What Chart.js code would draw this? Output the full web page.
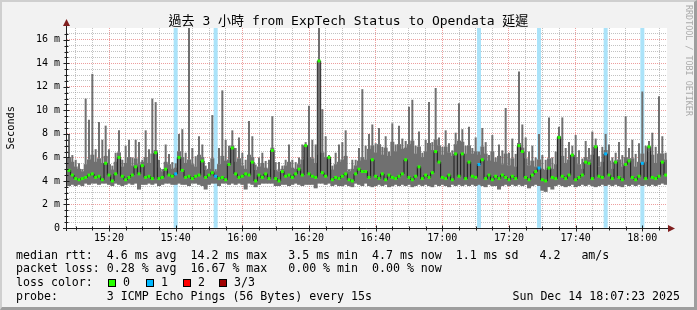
<!DOCTYPE html>
<html>
<head>
<meta charset="utf-8">
<script src="https://cdn.jsdelivr.net/npm/chart.js@4/dist/chart.umd.min.js"></script>
<style>
  html, body { margin: 0; padding: 0; }
  body { width: 697px; height: 310px; overflow: hidden; background: #f2f2f2; position: relative;
         font-family: 'DejaVu Sans Mono', monospace; color: #000; }
  #c { position: absolute; left: 0; top: 0; }
  .shade { position: absolute; left: 0; top: 0; width: 697px; height: 310px; box-sizing: border-box;
           border-style: solid; border-width: 2px 3px 3px 2px;
           border-color: #cfcfcf #9e9e9e #9e9e9e #cfcfcf; pointer-events: none; }
  .t { position: absolute; white-space: pre; line-height: 14px; }
  .title { left: 0; width: 697px; top: 14px; text-align: center; font-size: 13px;
           font-family: 'DejaVu Sans Mono', 'Noto Sans CJK TC', monospace; }
  .leg { font-size: 11.6px; left: 16px; }
  .box { position: absolute; width: 6px; height: 6px; border: 1px solid #000; }
  .ylab { left: 3px; top: 106px; font-size: 10.3px; writing-mode: vertical-rl; transform: rotate(180deg); }
  .wm { left: 684px; top: 5px; font-size: 8.4px; color: #ababab; writing-mode: vertical-rl; line-height: 10px; }
</style>
</head>
<body>
<canvas id="c" width="697" height="310"></canvas>
<div class="shade"></div>
<div class="t title">過去 3 小時 from ExpTech Status to Opendata 延遲</div>
<div class="t ylab">Seconds</div>
<div class="t wm">RRDTOOL / TOBI OETIKER</div>
<div class="t leg" style="top:248px">median rtt:  4.6 ms avg  14.2 ms max   3.5 ms min  4.7 ms now  1.1 ms sd   4.2   am/s</div>
<div class="t leg" style="top:261px">packet loss: 0.28 % avg  16.67 % max   0.00 % min  0.00 % now</div>
<div class="t leg" style="top:275px">loss color:</div>
<div class="box" style="left:108px;top:279px;background:#26ff00"></div>
<div class="t leg" style="top:275px;left:123px">0</div>
<div class="box" style="left:146px;top:279px;background:#00b8ff"></div>
<div class="t leg" style="top:275px;left:161px">1</div>
<div class="box" style="left:183px;top:279px;background:#ff0000"></div>
<div class="t leg" style="top:275px;left:198px">2</div>
<div class="box" style="left:219px;top:279px;background:#a00000"></div>
<div class="t leg" style="top:275px;left:234px">3/3</div>
<div class="t leg" style="top:289px">probe:       3 ICMP Echo Pings (56 Bytes) every 15s</div>
<div class="t leg" style="top:289px;left:auto;right:17px">Sun Dec 14 18:07:23 2025</div>

<script>
(function () {
  'use strict';

  // one sample per minute, x = minutes after 15:00 (15:08 ... 18:07), values in ms
  const FIRST_MIN = 8;
  // slowest ping of the minute (top of the thin smoke spikes)
  const hiMs = [
    8.0, 6.2, 5.8, 5.5, 5.0, 11.0, 9.2, 13.1, 6.7, 9.0,
    7.5, 8.7, 6.7, 5.3, 6.4, 8.3, 5.8, 7.0, 7.5, 6.0,
    7.5, 7.3, 5.8, 8.3, 6.7, 11.0, 10.7, 5.8, 5.0, 7.1,
    6.3, 5.6, 5.5, 8.0, 8.4, 6.4, 17.5, 6.8, 6.1, 7.8,
    7.1, 5.3, 5.6, 9.6, 5.0, 6.8, 11.7, 7.5, 7.0, 8.3,
    6.8, 7.7, 6.4, 5.8, 9.1, 7.8, 5.4, 6.0, 6.4, 5.7,
    5.8, 9.5, 5.6, 5.6, 5.3, 5.8, 7.1, 5.8, 5.6, 6.0,
    7.1, 7.3, 10.4, 7.5, 7.1, 17.5, 10.1, 7.8, 6.2, 5.3,
    6.4, 7.1, 7.3, 8.3, 5.0, 5.8, 5.8, 6.8, 11.8, 7.0,
    8.0, 8.8, 7.2, 8.5, 6.9, 7.8, 6.5, 8.9, 7.1, 8.7,
    7.6, 7.4, 10.3, 10.9, 7.0, 8.2, 6.4, 7.5, 10.7, 7.3,
    11.9, 7.7, 6.9, 8.3, 7.2, 6.6, 8.1, 10.6, 8.4, 7.0,
    8.6, 6.8, 7.7, 6.5, 8.5, 7.3, 6.2, 7.9, 6.0, 7.1,
    6.6, 10.2, 6.4, 7.6, 6.3, 13.3, 8.8, 7.7, 6.5, 7.0,
    6.0, 8.0, 6.2, 5.8, 9.4, 6.0, 6.5, 8.6, 9.4, 6.8,
    7.3, 7.0, 7.9, 6.6, 5.9, 7.4, 6.8, 8.2, 7.6, 6.1,
    6.9, 8.0, 7.1, 6.0, 6.4, 7.3, 6.2, 9.5, 6.8, 7.5,
    6.3, 7.2, 11.6, 7.0, 7.4, 8.1, 6.9, 11.2, 7.8, 6.4
  ];
  // top of the dense part of the smoke
  const bodyMs = [
    6.0, 5.6, 5.2, 5.0, 4.8, 5.4, 5.8, 6.2, 5.6, 5.9,
    5.5, 6.1, 5.4, 4.9, 5.6, 6.4, 5.2, 5.5, 6.0, 5.3,
    5.9, 5.4, 5.6, 6.0, 5.5, 6.3, 6.6, 5.1, 4.8, 5.6,
    5.4, 5.0, 5.1, 6.5, 6.0, 5.5, 5.8, 5.4, 5.2, 6.2,
    6.0, 4.9, 5.0, 5.9, 4.8, 5.4, 6.1, 5.7, 5.8, 7.0,
    5.6, 5.9, 5.3, 5.0, 6.2, 6.0, 4.9, 5.2, 5.5, 5.1,
    5.0, 6.8, 4.9, 4.8, 5.0, 5.3, 5.6, 5.1, 5.0, 5.4,
    5.8, 7.0, 6.0, 5.9, 5.5, 6.2, 6.4, 6.0, 6.0, 4.9,
    5.4, 5.6, 5.8, 6.1, 4.8, 5.0, 5.3, 5.7, 6.0, 5.8,
    6.7, 7.0, 6.4, 7.1, 6.2, 6.8, 6.1, 7.3, 6.5, 7.1,
    6.7, 6.8, 7.1, 7.4, 6.3, 6.9, 6.0, 6.5, 7.2, 6.6,
    7.5, 7.0, 6.2, 6.9, 6.4, 6.1, 7.1, 7.4, 7.3, 6.3,
    7.0, 6.3, 6.5, 6.2, 6.9, 6.3, 5.7, 6.5, 5.6, 6.1,
    5.4, 6.3, 5.3, 5.9, 5.2, 7.2, 6.8, 5.9, 5.3, 5.7,
    5.2, 5.8, 5.0, 4.9, 5.9, 5.0, 5.4, 7.8, 6.1, 5.5,
    5.8, 6.2, 6.0, 5.4, 5.0, 6.0, 5.8, 6.2, 7.0, 5.2,
    5.6, 6.6, 5.7, 5.0, 5.7, 5.8, 5.2, 6.0, 5.9, 5.9,
    5.2, 5.6, 6.3, 5.6, 6.5, 6.2, 5.5, 6.3, 6.3, 5.8
  ];
  // fastest ping of the minute
  const loMs = [
    3.6, 3.7, 3.6, 3.7, 3.6, 3.8, 3.7, 3.8, 3.8, 3.7,
    3.8, 3.8, 3.7, 3.6, 3.8, 3.7, 3.6, 3.7, 3.8, 3.7,
    3.8, 3.3, 3.7, 3.7, 3.8, 3.7, 3.8, 3.6, 3.7, 3.8,
    3.8, 3.7, 3.7, 3.8, 3.7, 3.7, 3.6, 3.8, 3.8, 3.7,
    3.6, 3.3, 3.7, 3.8, 3.8, 3.6, 3.8, 3.8, 3.7, 3.8,
    3.7, 3.8, 3.7, 3.3, 3.8, 3.7, 3.5, 3.7, 3.8, 3.8,
    3.8, 3.8, 3.6, 3.6, 3.7, 3.7, 3.6, 3.7, 3.8, 3.7,
    3.6, 3.7, 3.7, 3.7, 3.4, 3.8, 3.8, 3.7, 3.8, 3.6,
    3.7, 3.6, 3.6, 3.7, 3.6, 3.5, 3.8, 3.7, 3.6, 3.8,
    3.6, 3.5, 3.6, 3.7, 3.6, 3.7, 3.5, 3.6, 3.7, 3.6,
    3.7, 3.6, 3.7, 3.5, 3.6, 3.7, 3.6, 3.7, 3.6, 3.5,
    3.7, 3.6, 3.7, 3.6, 3.5, 3.7, 3.6, 3.7, 3.6, 3.7,
    3.6, 3.7, 3.6, 3.7, 3.6, 3.5, 3.7, 3.6, 3.6, 3.3,
    3.6, 3.7, 3.6, 3.7, 3.6, 3.7, 3.6, 3.7, 3.4, 3.6,
    3.7, 3.6, 3.2, 3.1, 3.5, 3.3, 3.6, 3.7, 3.6, 3.5,
    3.6, 3.7, 3.5, 3.6, 3.7, 3.6, 3.7, 3.6, 3.5, 3.6,
    3.7, 3.6, 3.7, 3.6, 3.7, 3.6, 3.5, 3.7, 3.6, 3.7,
    3.6, 3.7, 3.6, 3.7, 3.6, 3.7, 3.6, 3.7, 3.8, 3.7
  ];
  const medMs = [
    4.9, 4.5, 4.2, 4.1, 4.2, 4.3, 4.5, 4.6, 4.3, 4.4,
    4.1, 5.5, 4.5, 4.0, 4.6, 6.0, 4.4, 4.1, 4.3, 4.5,
    5.2, 4.6, 5.3, 4.3, 4.4, 4.2, 6.4, 4.2, 4.3, 5.0,
    4.5, 4.4, 4.6, 6.0, 4.9, 4.3, 4.4, 4.2, 4.4, 4.5,
    5.7, 4.3, 4.5, 4.7, 4.4, 4.2, 4.3, 4.1, 5.4, 6.8,
    4.6, 4.3, 4.4, 4.6, 4.5, 5.6, 4.0, 4.5, 4.3, 4.6,
    4.2, 6.6, 4.2, 4.0, 4.8, 4.4, 4.5, 4.3, 4.6, 5.0,
    4.5, 7.0, 4.6, 4.4, 4.3, 14.2, 4.7, 4.4, 6.0, 4.1,
    4.3, 4.2, 4.4, 4.6, 4.1, 4.0, 4.6, 5.0, 4.8, 4.8,
    4.3, 5.8, 4.4, 4.2, 4.6, 4.1, 4.5, 4.3, 4.2, 4.4,
    4.6, 5.8, 4.3, 4.1, 4.4, 5.2, 4.2, 4.5, 4.3, 4.7,
    6.5, 5.6, 4.3, 4.2, 4.5, 4.1, 6.3, 4.4, 6.3, 4.2,
    5.6, 4.4, 4.3, 5.4, 5.8, 4.2, 4.5, 4.1, 4.4, 4.2,
    4.5, 4.3, 4.1, 4.4, 4.2, 7.0, 6.5, 4.3, 4.1, 4.5,
    4.8, 5.1, 4.1, 4.0, 5.1, 4.3, 4.2, 7.7, 4.4, 4.2,
    4.5, 6.2, 4.1, 4.3, 4.5, 5.6, 5.5, 4.2, 6.9, 4.4,
    4.3, 6.3, 4.5, 4.2, 5.6, 4.3, 4.1, 5.4, 5.7, 4.3,
    4.1, 4.4, 5.5, 4.2, 6.9, 4.3, 4.2, 4.4, 5.6, 4.5
  ];
  // minutes where 1 of 3 pings was lost
  const lossMin = [40, 52, 131, 149, 169, 180];

  const X_MIN = 7.4, X_MAX = 187.4;   // 15:07:23 .. 18:07:23
  const Y_MAX = 17;
  const xGrid = [10, 15, 20, 25, 30, 35, 40, 45, 50, 55, 60, 65, 70, 75, 80, 85, 90, 95,
    100, 105, 110, 115, 120, 125, 130, 135, 140, 145, 150, 155, 160, 165, 170, 175, 180, 185];
  const xLabelMin = [20, 40, 60, 80, 100, 120, 140, 160, 180];
  const xLabels = ['15:20', '15:40', '16:00', '16:20', '16:40', '17:00', '17:20', '17:40', '18:00'];
  const yGrid = [0, 0.5, 1, 1.5, 2, 2.5, 3, 3.5, 4, 4.5, 5, 5.5, 6, 6.5, 7, 7.5, 8, 8.5,
    9, 9.5, 10, 10.5, 11, 11.5, 12, 12.5, 13, 13.5, 14, 14.5, 15, 15.5, 16, 16.5];
  const yLabelVal = [0, 2, 4, 6, 8, 10, 12, 14, 16];
  const yLabels = ['0', '2 m', '4 m', '6 m', '8 m', '10 m', '12 m', '14 m', '16 m'];

  const GRID = 'rgba(143,143,143,0.55)';
  const MGRID = 'rgba(222,79,79,0.55)';
  const AXIS = '#1f1f1f';
  const ARROW = '#801f1f';
  const SMOKE = '#707070';
  const LOSS0 = '#26ff00';
  const LOSS1 = '#00b8ff';
  const LOSS_BG = '#abe3f9';
  const tickFont = { family: 'DejaVu Sans Mono', size: 10 };

  const body = bodyMs.map((b, i) => ({ x: FIRST_MIN + i, y: [loMs[i], b] }));
  const spikes = hiMs.map((h, i) => ({ x: FIRST_MIN + i, y: [bodyMs[i], h] }));
  const median = medMs.map((m, i) => ({ x: FIRST_MIN + i, y: m }));
  const losses = lossMin.map((m) => ({ x: m, y: [0, Y_MAX] }));

  const frame = {
    id: 'frame',
    beforeDraw(chart) {
      const { ctx, chartArea: a } = chart;
      ctx.save();
      ctx.fillStyle = '#fff';
      ctx.fillRect(a.left, a.top, a.right - a.left, a.bottom - a.top);
      ctx.restore();
    },
    afterDraw(chart) {
      const { ctx, chartArea: a, scales } = chart;
      const yb = Math.round(a.bottom) + 0.5, xl = Math.round(a.left) - 0.5;
      ctx.save();
      ctx.strokeStyle = AXIS;
      ctx.lineWidth = 1;
      ctx.beginPath();
      xGrid.forEach((v) => {
        const px = Math.round(scales.x.getPixelForValue(v)) + 0.5;
        const big = v % 20 === 0 ? 1 : 0;
        ctx.moveTo(px, yb - 2 - big); ctx.lineTo(px, yb + 2 + big);
      });
      yGrid.forEach((v) => {
        if (v === 0) return;
        const py = Math.round(scales.y.getPixelForValue(v)) + 0.5;
        const big = v % 2 === 0 ? 1 : 0;
        ctx.moveTo(xl - 2 - big, py); ctx.lineTo(xl + 2 + big, py);
      });
      ctx.moveTo(a.left - 4, yb); ctx.lineTo(a.right + 3, yb);
      ctx.moveTo(xl, a.bottom + 3); ctx.lineTo(xl, a.top - 4);
      ctx.stroke();
      ctx.fillStyle = ARROW;
      ctx.beginPath();
      ctx.moveTo(a.right + 1, yb - 3.5); ctx.lineTo(a.right + 8, yb); ctx.lineTo(a.right + 1, yb + 3.5);
      ctx.closePath(); ctx.fill();
      ctx.beginPath();
      ctx.moveTo(xl - 3.5, a.top - 2); ctx.lineTo(xl, a.top - 9); ctx.lineTo(xl + 3.5, a.top - 2);
      ctx.closePath(); ctx.fill();
      ctx.restore();
    }
  };

  const barOpts = { borderWidth: 0, grouped: false, categoryPercentage: 1 };

  new Chart(document.getElementById('c'), {
    type: 'bar',
    data: {
      datasets: [
        { type: 'line', data: median, borderColor: '#1a1a1a', borderWidth: 1, stepped: 'middle',
          pointStyle: 'rect', pointRadius: 2.1, pointBorderWidth: 0,
          pointBackgroundColor: (c) => (lossMin.includes(FIRST_MIN + c.dataIndex) ? LOSS1 : LOSS0),
          order: 1 },
        Object.assign({ data: body, backgroundColor: SMOKE, barPercentage: 1, order: 2 }, barOpts),
        Object.assign({ data: spikes, backgroundColor: SMOKE, barPercentage: 0.6, order: 2 }, barOpts),
        Object.assign({ data: losses, backgroundColor: LOSS_BG, barPercentage: 1, order: 3 }, barOpts)
      ]
    },
    options: {
      responsive: false,
      animation: false,
      events: [],
      layout: { padding: { top: 28, right: 30, left: 0, bottom: 0 } },
      plugins: { legend: { display: false }, tooltip: { enabled: false }, title: { display: false } },
      scales: {
        x: {
          type: 'linear', min: X_MIN, max: X_MAX, offset: false, z: 1,
          afterBuildTicks: (s) => { s.ticks = xGrid.map((v) => ({ value: v })); },
          afterFit: (s) => { s.height = 82; },
          ticks: { autoSkip: false, maxRotation: 0, padding: 4, color: '#000', font: tickFont,
            callback: (v) => { const k = xLabelMin.indexOf(v); return k < 0 ? '' : xLabels[k]; } },
          grid: { offset: false, drawTicks: false, lineWidth: 1,
            color: (c) => (c.tick && c.tick.value % 20 === 0 ? MGRID : GRID) },
          border: { display: false, dash: [1, 1] }
        },
        y: {
          min: 0, max: Y_MAX, z: 1,
          afterBuildTicks: (s) => { s.ticks = yGrid.map((v) => ({ value: v })); },
          afterFit: (s) => { s.width = 67; },
          ticks: { autoSkip: false, padding: 7, color: '#000', font: tickFont,
            callback: (v) => { const k = yLabelVal.indexOf(v); return k < 0 ? '' : yLabels[k]; } },
          grid: { drawTicks: false, lineWidth: 1,
            color: (c) => (c.tick && c.tick.value > 0 && c.tick.value % 2 === 0 ? MGRID : GRID) },
          border: { display: false, dash: [1, 1] }
        }
      }
    },
    plugins: [frame]
  });
})();
</script>
</body>
</html>
